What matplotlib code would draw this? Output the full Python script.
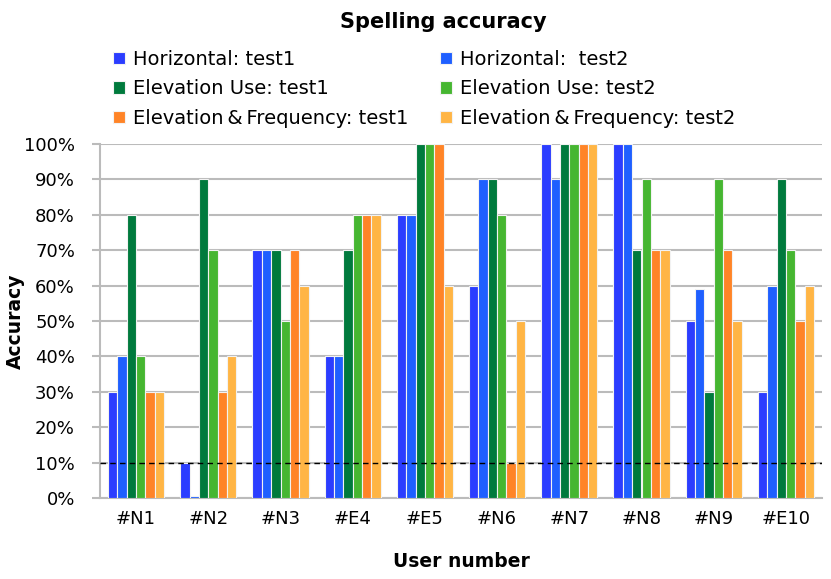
import numpy as np
import matplotlib.pyplot as plt

usuarios = ['#N1', '#N2', '#N3', '#E4', '#E5', '#N6', '#N7', '#N8', '#N9', '#E10']

horiz_t1 = [30, 10, 70, 40, 80, 60, 100, 100, 50, 30]
horiz_t2 = [40, 0.5, 70, 40, 80, 90, 90, 100, 59, 60]
elev_t1 = [80, 90, 70, 70, 100, 90, 100, 70, 30, 90]
elev_t2 = [40, 70, 50, 80, 100, 80, 100, 90, 90, 70]
frec_t1 = [30, 30, 70, 80, 100, 10, 100, 70, 70, 50]
frec_t2 = [30, 40, 60, 80, 60, 50, 100, 70, 50, 60]

series = [horiz_t1, horiz_t2, elev_t1, elev_t2, frec_t1, frec_t2]
etiquetas = ['Horizontal: test1', 'Horizontal:  test2',
             'Elevation Use: test1', 'Elevation Use: test2',
             'Elevation\u2009&\u2009Frequency: test1', 'Elevation\u2009&\u2009Frequency: test2']
colores = ['#2B3DFF', '#1F5FFF', '#007A3D', '#46B631', '#FF8427', '#FFB545']

plt.rcParams['font.family'] = ['DejaVu Sans']

fig = plt.figure(figsize=(8.31, 5.79), dpi=100)
ax = fig.add_axes([100 / 831, 81 / 579, 722 / 831, 354 / 579])

x = np.arange(len(usuarios))
ancho = 0.13
barras = []
for i, (vals, lab, col) in enumerate(zip(series, etiquetas, colores)):
    b = ax.bar(x + (i - 2.5) * ancho, np.array(vals) / 100, width=ancho, color=col,
               edgecolor='#F2F2F2', linewidth=0.8, label=lab, zorder=3)
    barras.append(b)

ax.axhline(0.1, color='black', linestyle=(0, (4, 3)), linewidth=1, zorder=4)

ax.set_xlim(-0.5, len(usuarios) - 0.5)
ax.set_ylim(0, 1.0)
ax.set_yticks(np.arange(0, 1.01, 0.1))
ax.set_yticklabels([f'{int(round(v * 100))}%' for v in np.arange(0, 1.01, 0.1)])
ax.set_xticks(x)
ax.set_xticklabels(usuarios)
ax.yaxis.grid(True, color='#BBBBBB', linewidth=1.5, zorder=0)
ax.tick_params(axis='y', length=6, width=1.5, color='#BBBBBB', labelsize=13, pad=12)
ax.tick_params(axis='x', length=0, labelsize=13, pad=9)
for s in ['top', 'right']:
    ax.spines[s].set_visible(False)
for s in ['left', 'bottom']:
    ax.spines[s].set_color('#BBBBBB')
    ax.spines[s].set_linewidth(1.5)

# etiqueta del eje y puesta a mano para que no se corte
fig.text(15 / 831, 1 - 321 / 579, 'Accuracy', rotation=90, ha='center', va='center',
         fontsize=13.5, fontweight='bold')
ax.set_xlabel('User number', fontsize=13.5, fontweight='bold', labelpad=17)

fig.text(0.534, 0.962, 'Spelling accuracy', ha='center', va='center', fontsize=15, fontweight='bold')

# orden por filas: test1 a la izquierda, test2 a la derecha
orden = [0, 2, 4, 1, 3, 5]
fig.legend([barras[i] for i in orden], [etiquetas[i] for i in orden],
           loc='upper left', bbox_to_anchor=(113 / 831, 1 - 50 / 579), ncol=2, frameon=False,
           fontsize=14, handlelength=0.62, handleheight=0.62, handletextpad=0.4,
           columnspacing=1.65, labelspacing=0.54, borderpad=0, borderaxespad=0)

plt.savefig('out.png', dpi=100)
